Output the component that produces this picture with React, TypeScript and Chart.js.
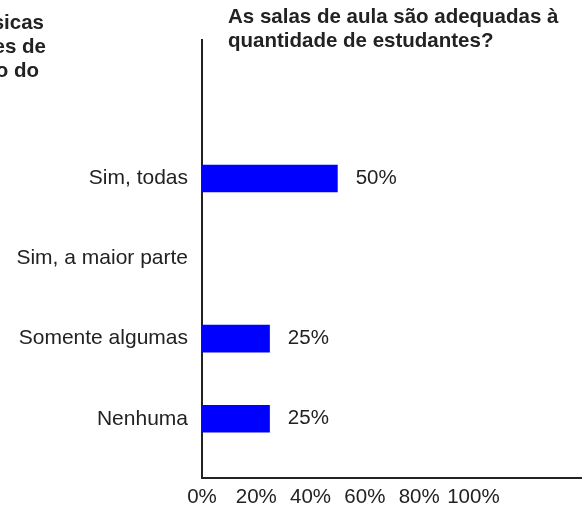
import React, { useEffect, useRef } from "react";
import { Chart, registerables } from "chart.js";

Chart.register(...registerables);

const categories = ["Sim, todas", "Sim, a maior parte", "Somente algumas", "Nenhuma"];
const values = [0.5, 0, 0.25, 0.25];
const xTickValues = [0, 0.2, 0.4, 0.6, 0.8, 1.0];
const titleLines = ["As salas de aula são adequadas à", "quantidade de estudantes?"];
const sideTitleLines = ["As condições físicas", "das instalações de", "ensino do"];

const FONT = "'Liberation Sans', Arial, Helvetica, sans-serif";
const TEXT = "#222222";

const valueLabels = {
  id: "valueLabels",
  afterDatasetsDraw(chart: any) {
    const ctx = chart.ctx;
    const meta = chart.getDatasetMeta(0);
    ctx.save();
    ctx.font = `20.5px ${FONT}`;
    ctx.fillStyle = TEXT;
    ctx.textAlign = "left";
    ctx.textBaseline = "middle";
    meta.data.forEach((bar: any, i: number) => {
      if (values[i] > 0) {
        ctx.fillText(`${Math.round(values[i] * 100)}%`, bar.x + 18, bar.y);
      }
    });
    ctx.restore();
  },
};

export default function App() {
  const ref = useRef<HTMLCanvasElement | null>(null);

  useEffect(() => {
    if (!ref.current) return;
    const chart = new Chart(ref.current, {
      type: "bar",
      data: {
        datasets: [
          {
            data: categories.map((c, i) => ({ x: values[i], y: i })),
            backgroundColor: "#0000ff",
            borderWidth: 0,
            barPercentage: 0.345,
            categoryPercentage: 1,
          },
        ],
      },
      options: {
        indexAxis: "y",
        responsive: false,
        animation: false,
        layout: { padding: { top: 40, right: 0, left: 0, bottom: 0 } },
        plugins: {
          legend: { display: false },
          title: { display: false },
          tooltip: { enabled: false },
        },
        scales: {
          x: {
            type: "linear",
            min: 0,
            max: 1.4,
            grid: { display: false, drawTicks: false },
            border: { display: true, color: TEXT, width: 2 },
            afterBuildTicks: (scale: any) => {
              scale.ticks = xTickValues.map((v) => ({ value: v }));
            },
            afterFit: (scale: any) => {
              scale.height = 30;
            },
            ticks: {
              autoSkip: false,
              maxRotation: 0,
              padding: 7,
              color: TEXT,
              font: { family: FONT, size: 20.5 },
              callback: (v: any) => `${Math.round(Number(v) * 100)}%`,
            },
          },
          y: {
            type: "linear",
            reverse: true,
            offset: false,
            min: -1.73,
            max: 3.74,
            grid: { display: false, drawTicks: false, offset: false },
            border: { display: true, color: TEXT, width: 2 },
            afterBuildTicks: (scale: any) => {
              scale.ticks = categories.map((c, i) => ({ value: i }));
            },
            afterFit: (scale: any) => {
              scale.width = 202;
            },
            ticks: {
              autoSkip: false,
              padding: 14,
              color: TEXT,
              font: { family: FONT, size: 21 },
              callback: (v: any) => categories[Number(v)] ?? "",
            },
          },
        },
      } as any,
      plugins: [valueLabels],
    });
    return () => chart.destroy();
  }, []);

  return (
    <div
      style={{
        position: "fixed",
        left: 0,
        top: 0,
        width: 582,
        height: 508,
        overflow: "hidden",
        background: "#fff",
        fontFamily: FONT,
      }}
    >
      <canvas ref={ref} width={582} height={508} style={{ position: "absolute", left: 0, top: 0 }} />
      <div
        style={{
          position: "absolute",
          left: 228,
          top: 4,
          fontWeight: "bold",
          fontSize: 20.5,
          lineHeight: "24px",
          color: TEXT,
          whiteSpace: "nowrap",
        }}
      >
        {titleLines.map((t, i) => (
          <div key={i}>{t}</div>
        ))}
      </div>
      <div
        style={{
          position: "absolute",
          right: 582 - 46,
          top: 10,
          fontWeight: "bold",
          fontSize: 20.5,
          lineHeight: "24px",
          color: TEXT,
          whiteSpace: "nowrap",
          textAlign: "right",
        }}
      >
        {sideTitleLines.map((t, i) => (
          <div key={i} style={{ marginRight: i === 2 ? 7 : i === 0 ? 2 : 0 }}>
            {t}
          </div>
        ))}
      </div>
    </div>
  );
}
